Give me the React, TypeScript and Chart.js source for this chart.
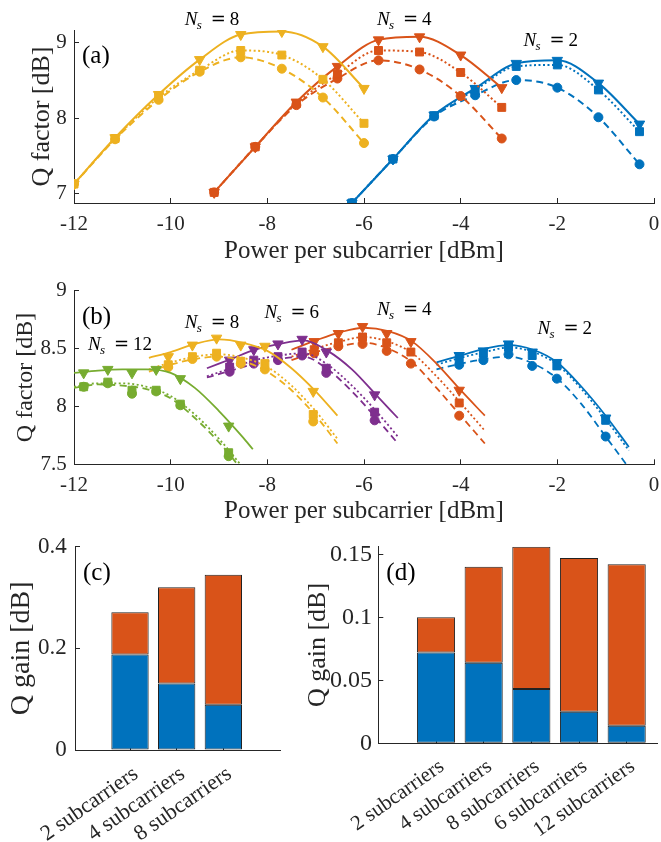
import React, { useEffect, useRef } from 'react';
import { Chart, registerables } from 'chart.js';

Chart.register(...registerables);

// ---------------- Panel (a) data ----------------
const A_X_NS8 = [-12, -11.15, -10.25, -9.4, -8.55, -7.7, -6.85, -6.0];
const A_NS8_TRI = [7.13, 7.74, 8.31, 8.77, 9.10, 9.14, 8.94, 8.39];
const A_NS8_SQR = [7.13, 7.73, 8.27, 8.63, 8.89, 8.83, 8.51, 7.93];
const A_NS8_CIR = [7.13, 7.72, 8.24, 8.61, 8.80, 8.65, 8.27, 7.67];

const A_X_NS4 = [-9.1, -8.25, -7.4, -6.55, -5.7, -4.85, -4.0, -3.15];
const A_NS4_TRI = [7.02, 7.62, 8.21, 8.68, 9.03, 9.07, 8.83, 8.40];
const A_NS4_SQR = [7.02, 7.62, 8.19, 8.58, 8.89, 8.87, 8.60, 8.14];
const A_NS4_CIR = [7.02, 7.62, 8.17, 8.52, 8.76, 8.64, 8.29, 7.73];

const A_X_NS2 = [-6.25, -5.4, -4.55, -3.7, -2.85, -2.0, -1.15, -0.3];
const A_NS2_TRI = [6.88, 7.46, 8.04, 8.39, 8.72, 8.76, 8.46, 7.92];
const A_NS2_SQR = [6.88, 7.46, 8.03, 8.37, 8.68, 8.70, 8.37, 7.82];
const A_NS2_CIR = [6.88, 7.46, 8.02, 8.30, 8.50, 8.40, 8.01, 7.39];

// ---------------- Panel (b) data ----------------
// measured points
const B_X_NS12 = [-11.8, -11.3, -10.8, -10.3, -9.8, -8.8];
const B_NS12_TRI = [8.29, 8.32, 8.29, 8.32, 8.24, 7.83];
const B_NS12_SQR = [8.17, 8.21, 8.14, 8.14, 8.02, 7.60];
const B_NS12_CIR = [8.17, 8.20, 8.11, 8.13, 8.01, 7.57];
// fitted curves
const B_FX_NS12 = [-12, -11.5, -11, -10.5, -10, -9.5, -9, -8.5, -8.3];
const B_NS12_FIT_SOLID = [8.29, 8.31, 8.32, 8.32, 8.29, 8.16, 7.96, 7.73, 7.63];
const B_NS12_FIT_DOT = [8.17, 8.20, 8.20, 8.17, 8.09, 7.93, 7.72, 7.47, 7.37];
const B_NS12_FIT_DASH = [8.16, 8.19, 8.18, 8.15, 8.07, 7.90, 7.69, 7.44, 7.34];

const B_X_NS8 = [-10.05, -9.55, -9.05, -8.55, -8.05, -7.05];
const B_NS8_TRI = [8.43, 8.53, 8.59, 8.53, 8.52, 8.13];
const B_NS8_SQR = [8.36, 8.43, 8.46, 8.39, 8.37, 7.93];
const B_NS8_CIR = [8.34, 8.41, 8.43, 8.37, 8.32, 7.87];
const B_FX_NS8 = [-10.45, -10, -9.5, -9, -8.5, -8, -7.5, -7, -6.55];
const B_NS8_FIT_SOLID = [8.42, 8.47, 8.54, 8.58, 8.55, 8.48, 8.33, 8.13, 7.92];
const B_NS8_FIT_DOT = [8.32, 8.38, 8.43, 8.45, 8.42, 8.34, 8.18, 7.96, 7.72];
const B_NS8_FIT_DASH = [8.30, 8.36, 8.41, 8.43, 8.39, 8.30, 8.14, 7.92, 7.68];

const B_X_NS6 = [-8.78, -8.28, -7.78, -7.28, -6.78, -5.78];
const B_NS6_TRI = [8.40, 8.49, 8.54, 8.58, 8.47, 8.10];
const B_NS6_SQR = [8.34, 8.40, 8.43, 8.47, 8.33, 7.95];
const B_NS6_CIR = [8.30, 8.37, 8.40, 8.44, 8.29, 7.88];
const B_FX_NS6 = [-9.25, -8.75, -8.25, -7.75, -7.25, -6.75, -6.25, -5.75, -5.3];
const B_NS6_FIT_SOLID = [8.33, 8.41, 8.49, 8.54, 8.57, 8.48, 8.32, 8.10, 7.90];
const B_NS6_FIT_DOT = [8.26, 8.33, 8.40, 8.44, 8.46, 8.36, 8.18, 7.96, 7.74];
const B_NS6_FIT_DASH = [8.25, 8.31, 8.37, 8.41, 8.43, 8.32, 8.13, 7.90, 7.68];

const B_X_NS4 = [-7.03, -6.53, -6.03, -5.53, -5.03, -4.03];
const B_NS4_TRI = [8.56, 8.63, 8.69, 8.63, 8.56, 8.14];
const B_NS4_SQR = [8.49, 8.55, 8.60, 8.55, 8.47, 8.03];
const B_NS4_CIR = [8.46, 8.52, 8.54, 8.48, 8.37, 7.92];
const B_FX_NS4 = [-7.5, -7, -6.5, -6, -5.5, -5, -4.5, -4, -3.5];
const B_NS4_FIT_SOLID = [8.49, 8.57, 8.64, 8.68, 8.65, 8.56, 8.37, 8.14, 7.92];
const B_NS4_FIT_DOT = [8.43, 8.50, 8.56, 8.60, 8.56, 8.46, 8.26, 8.03, 7.79];
const B_NS4_FIT_DASH = [8.40, 8.47, 8.52, 8.55, 8.50, 8.38, 8.16, 7.92, 7.68];

const B_X_NS2 = [-4.03, -3.53, -3.01, -2.52, -2.01, -1.0];
const B_NS2_TRI = [8.44, 8.48, 8.54, 8.47, 8.38, 7.90];
const B_NS2_SQR = [8.41, 8.46, 8.51, 8.44, 8.35, 7.88];
const B_NS2_CIR = [8.36, 8.40, 8.45, 8.35, 8.24, 7.74];
const B_FX_NS2 = [-4.5, -4, -3.5, -3, -2.5, -2, -1.5, -1, -0.52];
const B_NS2_FIT_SOLID = [8.38, 8.44, 8.50, 8.53, 8.49, 8.38, 8.17, 7.92, 7.65];
const B_NS2_FIT_DOT = [8.36, 8.42, 8.47, 8.51, 8.47, 8.36, 8.15, 7.89, 7.62];
const B_NS2_FIT_DASH = [8.32, 8.37, 8.41, 8.43, 8.37, 8.24, 8.02, 7.74, 7.47];

// ---------------- Panels (c), (d) data ----------------
const C_CATS = ['2 subcarriers', '4 subcarriers', '8 subcarriers'];
const C_BLUE = [0.188, 0.131, 0.089];
const C_ORANGE = [0.083, 0.189, 0.256];

const D_CATS = ['2 subcarriers', '4 subcarriers', '8 subcarriers', '6 subcarriers', '12 subcarriers'];
const D_BLUE = [0.072, 0.064, 0.043, 0.025, 0.014];
const D_ORANGE = [0.028, 0.076, 0.113, 0.122, 0.128];

// ---------------- text labels ----------------
const A_LABELS = [
  { x: -9.71, y: 9.224, n: '8' },
  { x: -5.73, y: 9.224, n: '4' },
  { x: -2.70, y: 8.947, n: '2' },
];
const B_LABELS = [
  { x: -11.71, y: 8.49, n: '12' },
  { x: -9.71, y: 8.678, n: '8' },
  { x: -8.06, y: 8.764, n: '6' },
  { x: -5.73, y: 8.793, n: '4' },
  { x: -2.41, y: 8.628, n: '2' },
];

// ---------------- styles ----------------
const BLUE = '#0072BD';
const ORANGE = '#D95319';
const YELLOW = '#EDB120';
const PURPLE = '#7E2F8E';
const GREEN = '#77AC30';
const AX = '#262626';
const EDGE = '#222222';
const FONT = '"Liberation Serif", "Times New Roman", serif';

const DASH: any = { solid: [], dotted: [2, 2.5], dashed: [7, 4.5] };
const MARK: any = {
  solid: { style: 'triangle', r: 6, rot: 180 },
  dotted: { style: 'rect', r: 5.6, rot: 0 },
  dashed: { style: 'circle', r: 4.5, rot: 0 },
};

const pts = (xs: number[], ys: number[]) => xs.map((x, i) => ({ x, y: ys[i] }));
const fmt = (v: any) => String(Math.round(Number(v) * 1000) / 1000);

function curve(color: string, sty: string, xs: number[], ys: number[], withMarkers: boolean, lw: number) {
  const m = MARK[sty];
  return {
    data: pts(xs, ys),
    borderColor: color,
    backgroundColor: color,
    borderWidth: lw,
    borderDash: DASH[sty],
    pointStyle: m.style,
    pointRadius: withMarkers ? m.r : 0,
    pointRotation: m.rot,
    pointBackgroundColor: color,
    pointBorderColor: color,
    pointBorderWidth: 1,
    cubicInterpolationMode: 'monotone',
    fill: false,
  };
}

function markers(color: string, sty: string, xs: number[], ys: number[]) {
  const m = MARK[sty];
  return {
    data: pts(xs, ys),
    showLine: false,
    borderColor: color,
    backgroundColor: color,
    pointStyle: m.style,
    pointRadius: m.r,
    pointRotation: m.rot,
    pointBackgroundColor: color,
    pointBorderColor: color,
    pointBorderWidth: 1,
  };
}

// ---------------- annotation plugin ----------------
const annotPlugin = {
  id: 'annot',
  afterDraw(chart: any, _args: any, opts: any) {
    const ctx = chart.ctx;
    const xs = chart.scales.x;
    const ys = chart.scales.y;
    ctx.save();
    ctx.fillStyle = '#000';
    ctx.textAlign = 'left';
    ctx.textBaseline = 'alphabetic';
    (opts.ns || []).forEach((it: any) => {
      const px = xs.getPixelForValue(it.x);
      const py = ys.getPixelForValue(it.y);
      ctx.font = `italic 19px ${FONT}`;
      ctx.fillText('N', px, py);
      ctx.font = `italic 13px ${FONT}`;
      ctx.fillText('s', px + 12, py + 4);
      ctx.font = `18px "DejaVu Serif"`;
      ctx.fillText('=', px + 26, py);
      ctx.font = `19px ${FONT}`;
      ctx.fillText(it.n, px + 45, py);
    });
    if (opts.tag) {
      ctx.font = `25px ${FONT}`;
      ctx.fillText(opts.tag, chart.chartArea.left + 8, chart.chartArea.top + 33);
    }
    ctx.restore();
  },
};
Chart.register(annotPlugin);

// ---------------- layout helpers ----------------
type Box = { left: number; top: number; w: number; h: number };
type Plot = { left: number; top: number; right: number; bottom: number };

function frame(box: Box, plot: Plot) {
  return {
    padding: { left: 0, top: plot.top - box.top, right: box.left + box.w - plot.right, bottom: 0 },
    yWidth: plot.left - box.left,
    xHeight: box.top + box.h - plot.bottom,
  };
}

const tickFont = (size: number) => ({ family: FONT, size, weight: 'normal' as any });
const border = { display: true, color: AX, width: 1 };
const grid = { drawOnChartArea: false, drawTicks: true, tickLength: -5, color: AX, lineWidth: 1, offset: false };

function yAxis(box: Box, f: any, o: any) {
  return {
    type: 'linear',
    position: 'left',
    min: o.min,
    max: o.max,
    stacked: o.stacked,
    border,
    grid,
    ticks: { stepSize: o.step, color: AX, font: tickFont(o.tickSize), padding: o.tickPad, includeBounds: false, callback: fmt },
    title: {
      display: true,
      text: o.title,
      color: AX,
      font: { family: FONT, size: o.titleSize },
      padding: { top: o.titleCX - box.left - 0.6 * o.titleSize, bottom: 0 },
    },
    afterFit: (s: any) => {
      s.width = f.yWidth;
      s.paddingTop = 0;
      s.paddingBottom = 0;
    },
  };
}

function lineConfig(box: Box, plot: Plot, o: any) {
  const f = frame(box, plot);
  const xTitleSize = 25;
  return {
    type: 'line',
    data: { datasets: o.datasets },
    options: {
      responsive: false,
      animation: false,
      layout: { padding: f.padding },
      plugins: { legend: { display: false }, tooltip: { enabled: false }, annot: o.annot },
      scales: {
        x: {
          type: 'linear',
          position: 'bottom',
          min: -12,
          max: 0,
          offset: false,
          border,
          grid,
          ticks: {
            stepSize: 2,
            color: AX,
            font: tickFont(21),
            padding: 13.6,
            maxRotation: 0,
            minRotation: 0,
            autoSkip: false,
            includeBounds: false,
            callback: fmt,
          },
          title: {
            display: true,
            text: 'Power per subcarrier [dBm]',
            color: AX,
            font: { family: FONT, size: xTitleSize },
            padding: { top: 0, bottom: box.top + box.h - o.xTitleCY - 0.6 * xTitleSize },
          },
          afterFit: (s: any) => {
            s.height = f.xHeight;
            s.paddingLeft = 0;
            s.paddingRight = 0;
          },
        },
        y: yAxis(box, f, {
          min: o.yMin,
          max: o.yMax,
          step: o.yStep,
          tickSize: 21,
          tickPad: 12.3,
          title: 'Q factor [dB]',
          titleSize: o.yTitleSize,
          titleCX: o.yTitleCX,
        }),
      },
    },
  };
}

function barConfig(box: Box, plot: Plot, o: any) {
  const f = frame(box, plot);
  const cats: string[] = o.cats;
  const bar = (vals: number[], color: string) => ({
    type: 'bar',
    data: vals.map((v, i) => ({ x: i + 1, y: v })),
    backgroundColor: color,
    borderColor: EDGE,
    borderWidth: 1,
    borderSkipped: false,
    barPercentage: 0.8,
    categoryPercentage: 1,
  });
  return {
    type: 'bar',
    data: { datasets: [bar(o.blue, BLUE), bar(o.orange, ORANGE)] },
    options: {
      responsive: false,
      animation: false,
      layout: { padding: f.padding },
      plugins: { legend: { display: false }, tooltip: { enabled: false }, annot: o.annot },
      scales: {
        x: {
          type: 'linear',
          position: 'bottom',
          min: o.xMin,
          max: o.xMax,
          offset: false,
          stacked: true,
          z: 1,
          border,
          grid,
          afterBuildTicks: (s: any) => {
            s.ticks = cats.map((_, i) => ({ value: i + 1 }));
          },
          ticks: {
            color: AX,
            font: tickFont(o.catSize),
            padding: o.catPad,
            labelOffset: 6,
            minRotation: o.catRot,
            maxRotation: o.catRot,
            autoSkip: false,
            callback: (v: any) => cats[Math.round(v) - 1] ?? '',
          },
          afterFit: (s: any) => {
            s.height = f.xHeight;
            s.paddingLeft = 0;
            s.paddingRight = 0;
          },
        },
        y: yAxis(box, f, {
          min: 0,
          max: o.yMax,
          step: o.yStep,
          stacked: true,
          tickSize: o.tickSize,
          tickPad: o.tickPad,
          title: 'Q gain [dB]',
          titleSize: o.titleSize,
          titleCX: o.titleCX,
        }),
      },
    },
  };
}

// ---------------- panel builders ----------------
const A_BOX = { left: 0, top: 0, w: 661, h: 270 };
const A_PLOT = { left: 74, top: 30, right: 655, bottom: 203 };
const B_BOX = { left: 0, top: 270, w: 661, h: 270 };
const B_PLOT = { left: 74, top: 290.7, right: 655, bottom: 464.3 };
const C_BOX = { left: 0, top: 530, w: 290, h: 312 };
const C_PLOT = { left: 75, top: 546.7, right: 280, bottom: 750 };
const D_BOX = { left: 290, top: 530, w: 371, h: 312 };
const D_PLOT = { left: 378.3, top: 546.7, right: 657, bottom: 743.3 };

function groupA(color: string, xs: number[], tri: number[], sq: number[], ci: number[]) {
  return [
    curve(color, 'solid', xs, tri, true, 2),
    curve(color, 'dotted', xs, sq, true, 2),
    curve(color, 'dashed', xs, ci, true, 2),
  ];
}

function groupB(color: string, fx: number[], fs: number[], fd: number[], fa: number[], xs: number[], tri: number[], sq: number[], ci: number[]) {
  return [
    curve(color, 'solid', fx, fs, false, 1.8),
    curve(color, 'dotted', fx, fd, false, 1.8),
    curve(color, 'dashed', fx, fa, false, 1.8),
    markers(color, 'solid', xs, tri),
    markers(color, 'dotted', xs, sq),
    markers(color, 'dashed', xs, ci),
  ];
}

const buildA = () =>
  lineConfig(A_BOX, A_PLOT, {
    yMin: 6.88,
    yMax: 9.16,
    yStep: 1,
    yTitleSize: 26,
    yTitleCX: 42,
    xTitleCY: 251.2,
    datasets: [
      ...groupA(YELLOW, A_X_NS8, A_NS8_TRI, A_NS8_SQR, A_NS8_CIR),
      ...groupA(ORANGE, A_X_NS4, A_NS4_TRI, A_NS4_SQR, A_NS4_CIR),
      ...groupA(BLUE, A_X_NS2, A_NS2_TRI, A_NS2_SQR, A_NS2_CIR),
    ],
    annot: { tag: '(a)', ns: A_LABELS },
  });

const buildB = () =>
  lineConfig(B_BOX, B_PLOT, {
    yMin: 7.5,
    yMax: 9,
    yStep: 0.5,
    yTitleSize: 24,
    yTitleCX: 26,
    xTitleCY: 511.7,
    datasets: [
      ...groupB(GREEN, B_FX_NS12, B_NS12_FIT_SOLID, B_NS12_FIT_DOT, B_NS12_FIT_DASH, B_X_NS12, B_NS12_TRI, B_NS12_SQR, B_NS12_CIR),
      ...groupB(YELLOW, B_FX_NS8, B_NS8_FIT_SOLID, B_NS8_FIT_DOT, B_NS8_FIT_DASH, B_X_NS8, B_NS8_TRI, B_NS8_SQR, B_NS8_CIR),
      ...groupB(PURPLE, B_FX_NS6, B_NS6_FIT_SOLID, B_NS6_FIT_DOT, B_NS6_FIT_DASH, B_X_NS6, B_NS6_TRI, B_NS6_SQR, B_NS6_CIR),
      ...groupB(ORANGE, B_FX_NS4, B_NS4_FIT_SOLID, B_NS4_FIT_DOT, B_NS4_FIT_DASH, B_X_NS4, B_NS4_TRI, B_NS4_SQR, B_NS4_CIR),
      ...groupB(BLUE, B_FX_NS2, B_NS2_FIT_SOLID, B_NS2_FIT_DOT, B_NS2_FIT_DASH, B_X_NS2, B_NS2_TRI, B_NS2_SQR, B_NS2_CIR),
    ],
    annot: { tag: '(b)', ns: B_LABELS },
  });

const buildC = () =>
  barConfig(C_BOX, C_PLOT, {
    cats: C_CATS,
    blue: C_BLUE,
    orange: C_ORANGE,
    xMin: -0.1786,
    xMax: 4.214,
    yMax: 0.4,
    yStep: 0.2,
    tickSize: 23,
    tickPad: 13.3,
    catSize: 22,
    catRot: 35,
    catPad: 16,
    titleSize: 28,
    titleCX: 22,
    annot: { tag: '(c)' },
  });

const buildD = () =>
  barConfig(D_BOX, D_PLOT, {
    cats: D_CATS,
    blue: D_BLUE,
    orange: D_ORANGE,
    xMin: -0.2104,
    xMax: 5.636,
    yMax: 0.156,
    yStep: 0.05,
    tickSize: 24,
    tickPad: 11.3,
    catSize: 21,
    catRot: 35,
    catPad: 16,
    titleSize: 26,
    titleCX: 318,
    annot: { tag: '(d)' },
  });

function ChartCanvas({ box, build }: { box: Box; build: () => any }) {
  const ref = useRef<HTMLCanvasElement | null>(null);
  useEffect(() => {
    const chart = new Chart(ref.current as any, build());
    return () => chart.destroy();
  }, []);
  return (
    <canvas
      ref={ref}
      width={box.w}
      height={box.h}
      style={{ position: 'absolute', left: box.left, top: box.top, width: box.w, height: box.h }}
    />
  );
}

export default function App() {
  return (
    <div style={{ position: 'absolute', left: 0, top: 0, width: 661, height: 842, background: '#ffffff', overflow: 'hidden' }}>
      <ChartCanvas box={A_BOX} build={buildA} />
      <ChartCanvas box={B_BOX} build={buildB} />
      <ChartCanvas box={C_BOX} build={buildC} />
      <ChartCanvas box={D_BOX} build={buildD} />
    </div>
  );
}
